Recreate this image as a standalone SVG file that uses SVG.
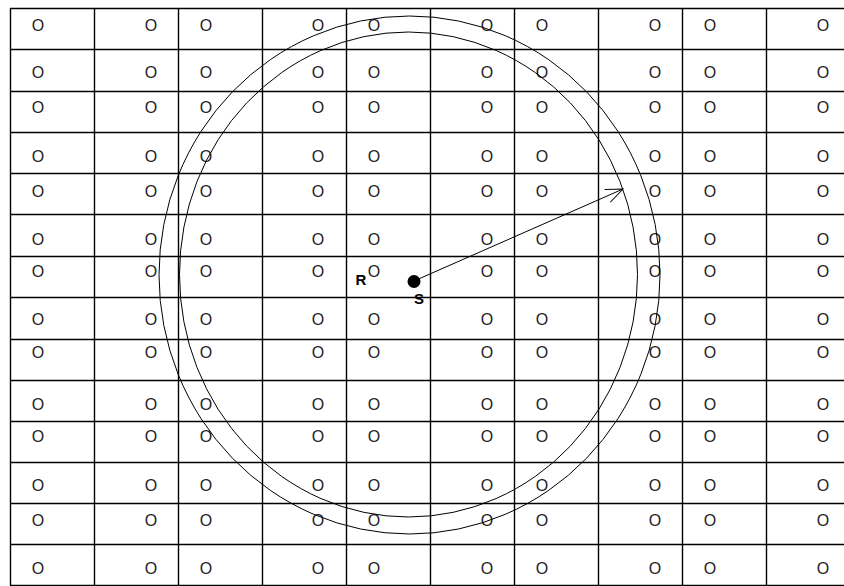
<svg xmlns="http://www.w3.org/2000/svg" width="844" height="586" viewBox="0 0 844 586">
<style>
.g{stroke:#000;stroke-width:1.4;fill:none}
.c{stroke:#000;stroke-width:1;fill:none}
.o{font-family:"Liberation Sans Narrow","Liberation Sans",Arial,sans-serif;font-size:16px;fill:#222;text-anchor:middle}
.b{font-family:"Liberation Sans",Arial,sans-serif;font-size:15px;font-weight:bold;fill:#000;text-anchor:middle}
</style>
<defs>
<marker id="ah" markerUnits="userSpaceOnUse" markerWidth="20" markerHeight="20" refX="0" refY="0" orient="auto" overflow="visible">
<path d="M-17,-7 L0,0 L-17,7" fill="none" stroke="#000" stroke-width="1"/>
</marker>
</defs>
<rect width="844" height="586" fill="#fff"/>
<g id="grid" class="g">
<path d="M10.5,8 V585.5 M94.5,8 V585.5 M178.5,8 V585.5 M262.5,8 V585.5 M346.5,8 V585.5 M430.5,8 V585.5 M514.5,8 V585.5 M598.5,8 V585.5 M682.5,8 V585.5 M766.5,8 V585.5"/>
<path d="M10,8.5 H844 M10,49.5 H844 M10,91.5 H844 M10,132.5 H844 M10,173.5 H844 M10,214.5 H844 M10,256.5 H844 M10,297.5 H844 M10,339.5 H844 M10,380.5 H844 M10,421.5 H844 M10,462.5 H844 M10,503.5 H844 M10,544.5 H844 M10,585.5 H844"/>
</g>
<g id="cells">
<g class="o">
<text x="38" y="31">O</text><text x="151" y="31">O</text><text x="206" y="31">O</text><text x="318" y="31">O</text><text x="374" y="31">O</text><text x="487" y="31">O</text><text x="542" y="31">O</text><text x="655" y="31">O</text><text x="710" y="31">O</text><text x="823" y="31">O</text>
<text x="38" y="78">O</text><text x="151" y="78">O</text><text x="206" y="78">O</text><text x="318" y="78">O</text><text x="374" y="78">O</text><text x="487" y="78">O</text><text x="542" y="78">O</text><text x="655" y="78">O</text><text x="710" y="78">O</text><text x="823" y="78">O</text>
<text x="38" y="113">O</text><text x="151" y="113">O</text><text x="206" y="113">O</text><text x="318" y="113">O</text><text x="374" y="113">O</text><text x="487" y="113">O</text><text x="542" y="113">O</text><text x="655" y="113">O</text><text x="710" y="113">O</text><text x="823" y="113">O</text>
<text x="38" y="162">O</text><text x="151" y="162">O</text><text x="206" y="162">O</text><text x="318" y="162">O</text><text x="374" y="162">O</text><text x="487" y="162">O</text><text x="542" y="162">O</text><text x="655" y="162">O</text><text x="710" y="162">O</text><text x="823" y="162">O</text>
<text x="38" y="197">O</text><text x="151" y="197">O</text><text x="206" y="197">O</text><text x="318" y="197">O</text><text x="374" y="197">O</text><text x="487" y="197">O</text><text x="542" y="197">O</text><text x="655" y="197">O</text><text x="710" y="197">O</text><text x="823" y="197">O</text>
<text x="38" y="245">O</text><text x="151" y="245">O</text><text x="206" y="245">O</text><text x="318" y="245">O</text><text x="374" y="245">O</text><text x="487" y="245">O</text><text x="542" y="245">O</text><text x="655" y="245">O</text><text x="710" y="245">O</text><text x="823" y="245">O</text>
<text x="38" y="277">O</text><text x="151" y="277">O</text><text x="206" y="277">O</text><text x="318" y="277">O</text><text x="374" y="277">O</text><text x="487" y="277">O</text><text x="542" y="277">O</text><text x="655" y="277">O</text><text x="710" y="277">O</text><text x="823" y="277">O</text>
<text x="38" y="325">O</text><text x="151" y="325">O</text><text x="206" y="325">O</text><text x="318" y="325">O</text><text x="374" y="325">O</text><text x="487" y="325">O</text><text x="542" y="325">O</text><text x="655" y="325">O</text><text x="710" y="325">O</text><text x="823" y="325">O</text>
<text x="38" y="358">O</text><text x="151" y="358">O</text><text x="206" y="358">O</text><text x="318" y="358">O</text><text x="374" y="358">O</text><text x="487" y="358">O</text><text x="542" y="358">O</text><text x="655" y="358">O</text><text x="710" y="358">O</text><text x="823" y="358">O</text>
<text x="38" y="410">O</text><text x="151" y="410">O</text><text x="206" y="410">O</text><text x="318" y="410">O</text><text x="374" y="410">O</text><text x="487" y="410">O</text><text x="542" y="410">O</text><text x="655" y="410">O</text><text x="710" y="410">O</text><text x="823" y="410">O</text>
<text x="38" y="442">O</text><text x="151" y="442">O</text><text x="206" y="442">O</text><text x="318" y="442">O</text><text x="374" y="442">O</text><text x="487" y="442">O</text><text x="542" y="442">O</text><text x="655" y="442">O</text><text x="710" y="442">O</text><text x="823" y="442">O</text>
<text x="38" y="491">O</text><text x="151" y="491">O</text><text x="206" y="491">O</text><text x="318" y="491">O</text><text x="374" y="491">O</text><text x="487" y="491">O</text><text x="542" y="491">O</text><text x="655" y="491">O</text><text x="710" y="491">O</text><text x="823" y="491">O</text>
<text x="38" y="526">O</text><text x="151" y="526">O</text><text x="206" y="526">O</text><text x="318" y="526">O</text><text x="374" y="526">O</text><text x="487" y="526">O</text><text x="542" y="526">O</text><text x="655" y="526">O</text><text x="710" y="526">O</text><text x="823" y="526">O</text>
<text x="38" y="574">O</text><text x="151" y="574">O</text><text x="206" y="574">O</text><text x="318" y="574">O</text><text x="374" y="574">O</text><text x="487" y="574">O</text><text x="542" y="574">O</text><text x="655" y="574">O</text><text x="710" y="574">O</text><text x="823" y="574">O</text>
</g>
</g>
<g id="circles" class="c">
<ellipse cx="409.5" cy="275" rx="250.5" ry="259"/>
<ellipse cx="408.5" cy="274.5" rx="229" ry="242.5"/>
</g>
<g id="connectors">
<line x1="414" y1="281" x2="623" y2="189" stroke="#000" stroke-width="1" marker-end="url(#ah)"/>
</g>
<g id="node-S">
<circle cx="414" cy="281.5" r="6.5" fill="#000"/>
<text class="b" x="419" y="304">S</text>
</g>
<g id="node-R">
<text class="b" x="361" y="285">R</text>
</g>
</svg>
